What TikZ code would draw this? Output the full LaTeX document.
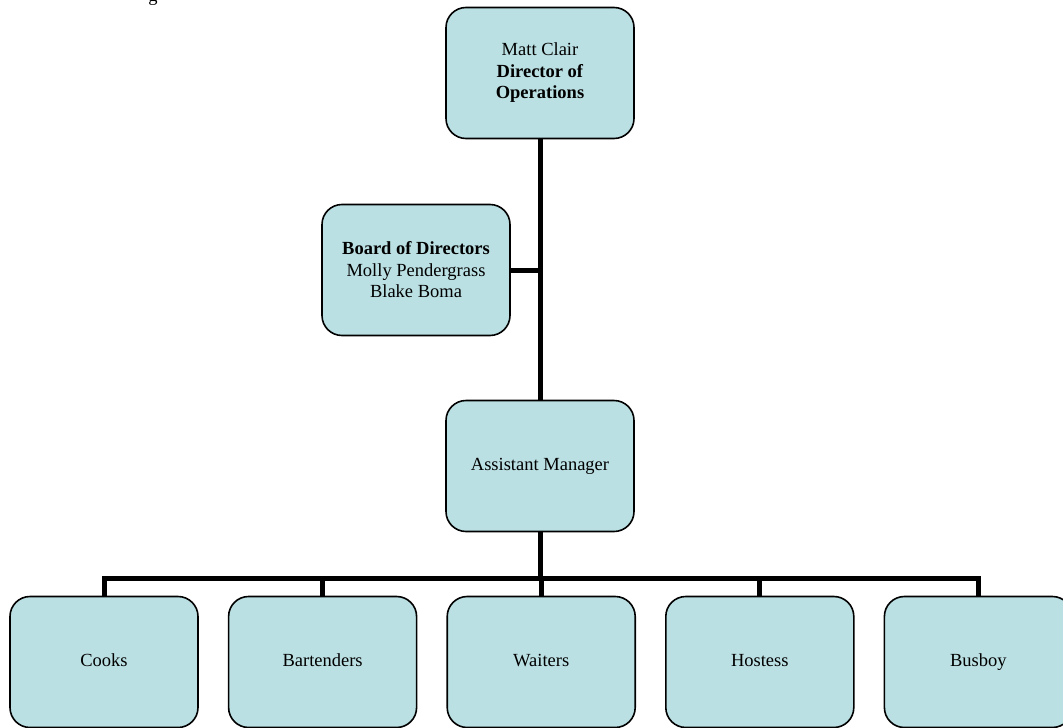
\documentclass[tikz,border=0pt]{standalone}
\usepackage{fontspec}
\setmainfont{Liberation Serif}
\usetikzlibrary{positioning}

\definecolor{boxblue}{RGB}{187,224,227}

\tikzset{
  unit/.style={draw, line width=1.6pt, fill=boxblue, rounded corners=20pt,
    minimum width=188pt, minimum height=131pt, align=center,
    font=\fontsize{18.5}{21.5}\selectfont},
  staff/.style={unit, text height=13pt, text depth=4pt},
  link/.style={line width=5pt, line join=miter}
}

\begin{document}
\begin{tikzpicture}[x=1pt,y=1pt,yscale=-1,xscale=1]
\useasboundingbox (0,0) rectangle (1063,728);

% cut off text above the chart
\node (cut) [anchor=base, font=\fontsize{18.5}{21.5}\selectfont, inner sep=0pt] at (153,1.5) {g};

% Director
\node (dir) [unit] at (540,73) {Matt Clair\\\textbf{Director of}\\\textbf{Operations}};
% Board
\node (board) [unit] at (416,270) {\textbf{Board of Directors}\\Molly Pendergrass\\Blake Boma};
% Assistant Manager
\node (asst) [staff] at (540,466) {Assistant Manager};

% Staff row
\node (cooks) [staff] at (104,662) {Cooks};
\node (bart) [staff, right=29pt of cooks] {Bartenders};
\node (waiters) [staff, right=29pt of bart] {Waiters};
\node (host) [staff, right=29pt of waiters] {Hostess};
\node (busboy) [staff, right=29pt of host] {Busboy};

% Connectors
\draw [link] (dir.south) -- (asst.north);
\draw [link] (board.east) -- (board.east -| dir.south);
\draw [link] (asst.south) -- ++(0,46) coordinate (hub);
\draw [link] (cooks.north) |- (hub) -| (busboy.north);
\foreach \n in {bart,waiters,host}
  \draw [link] (\n.north) -- (\n.north |- hub);

\end{tikzpicture}
\end{document}
